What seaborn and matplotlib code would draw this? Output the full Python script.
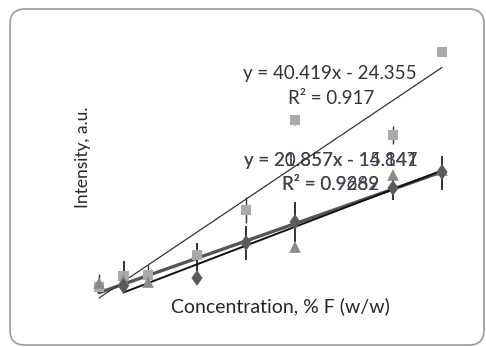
import numpy as np
import pandas as pd
import matplotlib
matplotlib.use("Agg")
import matplotlib.pyplot as plt
import seaborn as sns
from matplotlib.patches import FancyBboxPatch

sns.set_theme(style="white")
plt.rcParams['font.family'] = ['Lato', 'DejaVu Sans']

# Data (concentration, intensity in a.u.)
conc_sq = [0, 0.5, 1, 2, 3, 4, 6, 7]
int_sq = [1.5, 7, 7.5, 17.5, 40, 85, 77.5, 119]
err_sq_lo = [0, 0, 0, 0, 6.5, 2.5, 4.5, 0]
err_sq_hi = [0, 0, 0, 0, 6.5, 2.5, 4.5, 0]

conc_tri = [0, 0.5, 1, 4, 6, 7]
int_tri = [3.5, 5, 4, 21.5, 57.5, 60]
err_tri_lo = [0, 0, 0, 0, 0, 0]
err_tri_hi = [4.5, 0, 8.5, 0, 0, 0]

conc_dia = [0.5, 2, 3, 4, 6, 7]
int_dia = [2, 6, 23.5, 34, 51, 59]
err_dia_lo = [3, 3, 8.5, 10, 6, 9]
err_dia_hi = [12.5, 17.5, 8.5, 10, 6, 8]

eq_sq = ["y = 40.419x - 24.355", "R² = 0.917"]
eq_dia = ["y = 20.857x - 14.847", "R² = 0.9289"]
eq_tri = ["y = 21.357x - 15.141", "R² = 0.9662"]

x_label = "Concentration, % F (w/w)"
y_label = "Intensity, a.u."

df_sq = pd.DataFrame({"x": conc_sq, "y": int_sq})
df_tri = pd.DataFrame({"x": conc_tri, "y": int_tri})
df_dia = pd.DataFrame({"x": conc_dia, "y": int_dia})

fig = plt.figure(figsize=(4.86, 3.47), dpi=100)
fig.patch.set_facecolor("white")

# overlay in pixel coordinates for frame and text
pix = fig.add_axes([0, 0, 1, 1], zorder=0)
pix.set_xlim(0, 486)
pix.set_ylim(347, 0)
pix.axis("off")

ax = fig.add_axes([80/486, 47/347, 380/486, 280/347], zorder=1)
ax.patch.set_alpha(0)
ax.set_xlim(-19/49, 361/49)
ax.set_ylim(-5, 135)

c_sq, c_tri, c_dia = "#a9a9a9", "#8a8a8a", "#5a5a5a"
tall_diamond = [(0, 1), (0.7, 0), (0, -1), (-0.7, 0), (0, 1)]

# error bars
ax.errorbar(conc_dia, int_dia, yerr=[err_dia_lo, err_dia_hi], fmt="none", ecolor="#111111",
            elinewidth=1.2, capsize=0, zorder=2)
ax.errorbar(conc_sq, int_sq, yerr=[err_sq_lo, err_sq_hi], fmt="none", ecolor="#333333",
            elinewidth=1.0, capsize=0, zorder=2)
ax.errorbar(conc_tri, int_tri, yerr=[err_tri_lo, err_tri_hi], fmt="none", ecolor="#333333",
            elinewidth=1.0, capsize=0, zorder=2)

# trendlines
sns.regplot(data=df_tri, x="x", y="y", scatter=False, ci=None, truncate=True, ax=ax,
            line_kws=dict(color="#555555", lw=2.4, zorder=3))
sns.regplot(data=df_dia, x="x", y="y", scatter=False, ci=None, truncate=True, ax=ax,
            line_kws=dict(color="#111111", lw=1.4, zorder=3))
sns.regplot(data=df_sq, x="x", y="y", scatter=False, ci=None, truncate=True, ax=ax,
            line_kws=dict(color="#333333", lw=0.9, zorder=3))

# markers
sns.scatterplot(data=df_sq, x="x", y="y", marker="s", s=55, color=c_sq, edgecolor="none", ax=ax, zorder=4)
sns.scatterplot(data=df_tri, x="x", y="y", marker="^", s=70, color=c_tri, edgecolor="none", ax=ax, zorder=4)
sns.scatterplot(data=df_dia, x="x", y="y", marker=tall_diamond, s=130, color=c_dia, edgecolor="none", ax=ax, zorder=4)
ax.set_xlabel("")
ax.set_ylabel("")
ax.axis("off")

# equation labels
fs = 13.5
pix.text(330, 73, eq_sq[0], fontsize=fs, color="#333333", ha="center", va="center")
pix.text(331, 98, eq_sq[1], fontsize=fs, color="#333333", ha="center", va="center")
pix.text(331, 160, eq_dia[0], fontsize=fs, color="#2e3a52", ha="center", va="center")
pix.text(331, 184, eq_dia[1], fontsize=fs, color="#2e3a52", ha="center", va="center")
pix.text(331, 160, eq_tri[0], fontsize=fs, color="#444444", ha="center", va="center")
pix.text(331, 184, eq_tri[1], fontsize=fs, color="#444444", ha="center", va="center")

pix.text(280, 306, x_label, fontsize=14, color="#262626", ha="center", va="center")
pix.text(83, 157, y_label, rotation=90, fontsize=12.5, color="#262626", ha="center", va="center")

# rounded chart border
border = FancyBboxPatch((10, 9), 474, 336, boxstyle="round,pad=0,rounding_size=15",
                        fill=False, edgecolor="#9a9a9a", lw=1.2)
pix.add_patch(border)

fig.savefig("out.png", dpi=100)
